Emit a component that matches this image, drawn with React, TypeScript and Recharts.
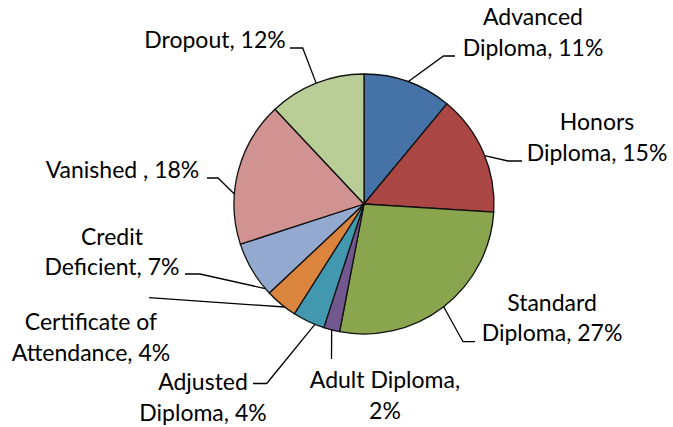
import { PieChart, Pie, Cell } from 'recharts';

const categories = [
  'Advanced Diploma',
  'Honors Diploma',
  'Standard Diploma',
  'Adult Diploma',
  'Adjusted Diploma',
  'Certificate of Attendance',
  'Credit Deficient',
  'Vanished ',
  'Dropout',
];
const shares = [11, 15, 27, 2, 4, 4, 7, 18, 12];
const colors = ['#4572A7', '#AA4643', '#89A54E', '#71588F', '#4198AF', '#DB843D', '#93A9CF', '#D19392', '#B9CD96'];
// how many words go on the first line of each label (0 = one line)
const firstLineWords = [1, 1, 1, 2, 1, 2, 1, 0, 0];

const data = categories.map((name, i) => ({ name, value: shares[i] }));

// label placement, relative to the pie centre: text centre / first baseline,
// stub end at the label, knee, and a small angle shift of the attach point (deg clockwise)
const labelLayout = [
  { tx: 169, ty: -179, sx: 91, sy: -148, kx: 79.5, ky: -148, shift: 0 },
  { tx: 233, ty: -74, sx: 158, sy: -43, kx: 144, ky: -43, shift: 1.6 },
  { tx: 188, ty: 106.7, sx: 111, sy: 137.7, kx: 99, ky: 137.7, shift: 0 },
  { tx: 21, ty: 184, sx: -32.5, sy: 155, kx: -32.5, ky: 155, shift: 0 },
  { tx: -161, ty: 186, sx: -111, sy: 179.5, kx: -97.3, ky: 179.5, shift: -3 },
  { tx: -273, ty: 126, sx: -215, sy: 93.7, kx: -215, ky: 93.7, shift: -2 },
  { tx: -252, ty: 40.5, sx: -179, sy: 70, kx: -164, ky: 70, shift: -10 },
  { tx: -241.5, ty: -26, sx: -157, sy: -26, kx: -146, ky: -26, shift: -10 },
  { tx: -149, ty: -156, sx: -74, sy: -156, kx: -61.3, ky: -156, shift: 0 },
];

const RAD = Math.PI / 180;
const FONT = 'Lato, "Open Sans", sans-serif';

const renderLabel = (props: any) => {
  const { cx, cy, midAngle, outerRadius, index } = props;
  const L = labelLayout[index];
  const a = (midAngle - L.shift) * RAD;
  const ax = cx + outerRadius * Math.cos(a);
  const ay = cy - outerRadius * Math.sin(a);
  const words = `${categories[index]}, ${shares[index]}%`.split(' ');
  const n = firstLineWords[index];
  const lines = n ? [words.slice(0, n).join(' '), words.slice(n).join(' ')] : [words.join(' ')];
  return (
    <g key={`lbl-${index}`}>
      <polyline
        points={`${cx + L.sx},${cy + L.sy} ${cx + L.kx},${cy + L.ky} ${ax},${ay}`}
        fill="none"
        stroke="#000"
        strokeWidth={1.3}
      />
      <text textAnchor="middle" fontFamily={FONT} fontSize={23} fill="#000">
        {lines.map((t, j) => (
          <tspan key={j} x={cx + L.tx} y={cy + L.ty + j * 30.5}>
            {t}
          </tspan>
        ))}
      </text>
    </g>
  );
};

export default function App() {
  return (
    <div style={{ width: 673, height: 427, background: '#fff' }}>
      <style>{`body{margin:0}`}</style>
      <PieChart width={673} height={427} margin={{ top: 0, right: 0, bottom: 0, left: 0 }}>
        <Pie
          data={data}
          dataKey="value"
          nameKey="name"
          cx={364}
          cy={204}
          outerRadius={130}
          startAngle={90}
          endAngle={-270}
          stroke="#111"
          strokeWidth={1.3}
          label={renderLabel}
          labelLine={false}
          isAnimationActive={false}
        >
          {data.map((d, i) => (
            <Cell key={d.name} fill={colors[i]} />
          ))}
        </Pie>
      </PieChart>
    </div>
  );
}
